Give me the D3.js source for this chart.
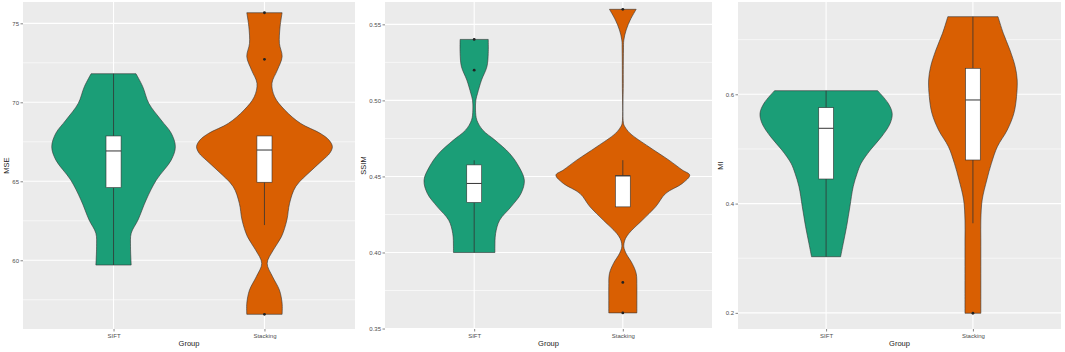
<!DOCTYPE html>
<html>
<head>
<meta charset="utf-8">
<script src="https://cdn.jsdelivr.net/npm/d3@7"></script>
<style>
  body { margin: 0; background: #fff; }
  svg { display: block; font-family: "Liberation Sans", Arial, sans-serif; }
</style>
</head>
<body>
<svg id="chart" width="1065" height="352"></svg>
<script>
// Groups and fill colours
var groups = ["SIFT", "Stacking"];
var groupColors = ["#1b9e77", "#d95f02"];

// MSE panel: violin outlines as [value, relative half-width]
var mseTicks = [60, 65, 70, 75];
var mseLimits = [55.65, 76.35];
var mseSiftViolin = [[71.81,0.33],[70.99,0.43],[69.93,0.52],[68.88,0.70],[68.04,0.85],[67.19,0.91],
    [66.35,0.85],[65.08,0.63],[63.82,0.48],[62.55,0.36],[61.71,0.26],[60.86,0.25],[59.70,0.26]];
var mseStackViolin = [[75.67,0.26],[74.78,0.23],[73.73,0.22],[72.89,0.26],[72.04,0.19],[71.20,0.11],
    [70.35,0.15],[69.51,0.30],[68.67,0.53],[68.04,0.82],[67.61,0.95],[67.19,1.00],[66.77,0.96],
    [66.35,0.86],[65.72,0.70],[64.66,0.46],[63.61,0.37],[62.55,0.33],[61.49,0.25],[60.65,0.13],
    [59.81,0.04],[58.96,0.12],[58.12,0.22],[57.28,0.26],[56.58,0.26]];
var mseBoxes = [[59.70, 64.60, 66.92, 67.87, 71.81], [62.23, 64.94, 66.98, 67.87, 67.87]];
var mseOutliers = [[], [75.67, 72.72, 56.58]];

// SSIM panel
var ssimTicks = [0.35, 0.40, 0.45, 0.50, 0.55];
var ssimLimits = [0.3497, 0.5647];
var ssimSiftViolin = [[0.5401,0.21],[0.5309,0.21],[0.5221,0.19],[0.5134,0.11],[0.5046,0.05],[0.5002,0.025],
    [0.4936,0.02],[0.4870,0.04],[0.4804,0.13],[0.4739,0.31],[0.4651,0.53],[0.4563,0.67],[0.4475,0.75],
    [0.4388,0.70],[0.4300,0.55],[0.4212,0.38],[0.4124,0.32],[0.4037,0.31],[0.4000,0.31]];
var ssimStackViolin = [[0.5599,0.20],[0.5528,0.11],[0.5463,0.05],[0.5397,0.015],[0.5331,0.01],[0.5112,0.007],
    [0.4849,0.01],[0.4827,0.03],[0.4783,0.11],[0.4695,0.39],[0.4607,0.69],[0.4542,0.89],[0.4509,1.00],
    [0.4454,0.89],[0.4388,0.64],[0.4300,0.49],[0.4212,0.29],[0.4125,0.09],[0.4081,0.03],[0.4037,0.015],
    [0.3993,0.05],[0.3928,0.14],[0.3862,0.20],[0.3774,0.21],[0.3686,0.21],[0.3603,0.21]];
var ssimBoxes = [[0.4000, 0.4329, 0.4454, 0.4576, 0.4606], [0.4300, 0.4300, 0.4504, 0.4504, 0.4607]];
var ssimOutliers = [[0.5401, 0.5199], [0.5599, 0.3803, 0.3603]];

// MI panel
var miTicks = [0.2, 0.4, 0.6];
var miLimits = [0.1705, 0.7689];
var miSiftViolin = [[0.6066,0.78],[0.5835,0.94],[0.5652,1.00],[0.5469,0.97],[0.5224,0.84],[0.4981,0.67],
    [0.4737,0.53],[0.4554,0.47],[0.4309,0.41],[0.3943,0.36],[0.3577,0.31],[0.3274,0.26],[0.3028,0.22]];
var miStackViolin = [[0.7420,0.38],[0.7116,0.46],[0.6811,0.56],[0.6506,0.64],[0.6262,0.67],[0.5957,0.66],
    [0.5652,0.62],[0.5347,0.52],[0.5041,0.37],[0.4737,0.28],[0.4432,0.21],[0.4066,0.14],[0.3700,0.12],
    [0.3334,0.12],[0.2846,0.12],[0.2358,0.12],[0.1993,0.12]];
var miBoxes = [[0.3028, 0.4450, 0.5378, 0.5755, 0.6066], [0.3640, 0.4798, 0.5896, 0.6476, 0.7420]];
var miOutliers = [[], [0.1993]];

var panels = [
    {title: "MSE", ticks: mseTicks, limits: mseLimits, fmt: d3.format("d"),
     violins: [mseSiftViolin, mseStackViolin], boxes: mseBoxes, outliers: mseOutliers,
     left: 23, right: 355},
    {title: "SSIM", ticks: ssimTicks, limits: ssimLimits, fmt: d3.format(".2f"),
     violins: [ssimSiftViolin, ssimStackViolin], boxes: ssimBoxes, outliers: ssimOutliers,
     left: 385, right: 712},
    {title: "MI", ticks: miTicks, limits: miLimits, fmt: d3.format(".1f"),
     violins: [miSiftViolin, miStackViolin], boxes: miBoxes, outliers: miOutliers,
     left: 738, right: 1061}
];

var plotTop = 2, plotBottom = 329;
var svg = d3.select("#chart");

panels.forEach(function(p) {
    var x = d3.scalePoint().domain(groups).range([p.left, p.right]).padding(0.6);
    var y = d3.scaleLinear().domain(p.limits).range([plotBottom, plotTop]);
    var halfMax = 0.45 * x.step();
    var boxHalf = 0.05 * x.step();

    var g = svg.append("g");

    // panel background
    g.append("rect")
        .attr("x", p.left).attr("y", plotTop)
        .attr("width", p.right - p.left).attr("height", plotBottom - plotTop)
        .attr("fill", "#ebebeb");

    // minor grid: halfway between breaks
    var step = p.ticks[1] - p.ticks[0];
    var minor = [p.ticks[0] - step / 2].concat(p.ticks.map(function(t) { return t + step / 2; }))
        .filter(function(v) { return v > p.limits[0] && v < p.limits[1]; });
    g.selectAll(".minor").data(minor).enter().append("line")
        .attr("x1", p.left).attr("x2", p.right)
        .attr("y1", function(d) { return y(d); }).attr("y2", function(d) { return y(d); })
        .attr("stroke", "#fff").attr("stroke-width", 0.6);

    // major grid
    g.selectAll(".major").data(p.ticks).enter().append("line")
        .attr("x1", p.left).attr("x2", p.right)
        .attr("y1", function(d) { return y(d); }).attr("y2", function(d) { return y(d); })
        .attr("stroke", "#fff").attr("stroke-width", 1.1);
    g.selectAll(".vmajor").data(groups).enter().append("line")
        .attr("x1", function(d) { return x(d); }).attr("x2", function(d) { return x(d); })
        .attr("y1", plotTop).attr("y2", plotBottom)
        .attr("stroke", "#fff").attr("stroke-width", 1.1);

    // violins
    groups.forEach(function(grp, i) {
        var cx = x(grp);
        var area = d3.area()
            .curve(d3.curveCatmullRom.alpha(0.5))
            .y(function(d) { return y(d[0]); })
            .x0(function(d) { return cx - d[1] * halfMax; })
            .x1(function(d) { return cx + d[1] * halfMax; });
        g.append("path")
            .attr("d", area(p.violins[i]))
            .attr("fill", groupColors[i])
            .attr("stroke", "#333").attr("stroke-width", 0.6);

        var b = p.boxes[i];
        // whiskers
        g.append("line")
            .attr("x1", cx).attr("x2", cx).attr("y1", y(b[0])).attr("y2", y(b[1]))
            .attr("stroke", "#333").attr("stroke-width", 0.8);
        g.append("line")
            .attr("x1", cx).attr("x2", cx).attr("y1", y(b[3])).attr("y2", y(b[4]))
            .attr("stroke", "#333").attr("stroke-width", 0.8);
        // box
        g.append("rect")
            .attr("x", cx - boxHalf).attr("y", y(b[3]))
            .attr("width", boxHalf * 2).attr("height", y(b[1]) - y(b[3]))
            .attr("fill", "#fff").attr("stroke", "#333").attr("stroke-width", 0.6);
        g.append("line")
            .attr("x1", cx - boxHalf).attr("x2", cx + boxHalf)
            .attr("y1", y(b[2])).attr("y2", y(b[2]))
            .attr("stroke", "#333").attr("stroke-width", 1);
        // outliers
        g.selectAll(".out" + i).data(p.outliers[i]).enter().append("circle")
            .attr("cx", cx).attr("cy", function(d) { return y(d); })
            .attr("r", 1.4).attr("fill", "#222");
    });

    // axes
    var yAxis = d3.axisLeft(y).tickValues(p.ticks).tickFormat(p.fmt).tickSize(2.5).tickPadding(1.5);
    var ay = svg.append("g").attr("transform", "translate(" + p.left + ",0)").call(yAxis);
    var xAxis = d3.axisBottom(x).tickSize(2.5).tickPadding(2);
    var ax = svg.append("g").attr("transform", "translate(0," + plotBottom + ")").call(xAxis);
    [ay, ax].forEach(function(a) {
        a.select(".domain").remove();
        a.selectAll(".tick line").attr("stroke", "#333").attr("stroke-width", 0.6);
        a.selectAll(".tick text").attr("fill", "#4d4d4d")
            .style("font-size", "6px").style("font-family", "Liberation Sans, Arial, sans-serif");
    });

    // titles
    svg.append("text")
        .attr("x", (p.left + p.right) / 2).attr("y", 346)
        .attr("text-anchor", "middle").attr("font-size", "7.5px").attr("fill", "#222")
        .text("Group");
    var labelLeft = p.left + ay.node().getBBox().x;
    svg.append("text")
        .attr("transform", "translate(" + (labelLeft - 3) + "," + ((plotTop + plotBottom) / 2) + ") rotate(-90)")
        .attr("text-anchor", "middle").attr("font-size", "7.5px").attr("fill", "#222")
        .text(p.title);
});
</script>
</body>
</html>
